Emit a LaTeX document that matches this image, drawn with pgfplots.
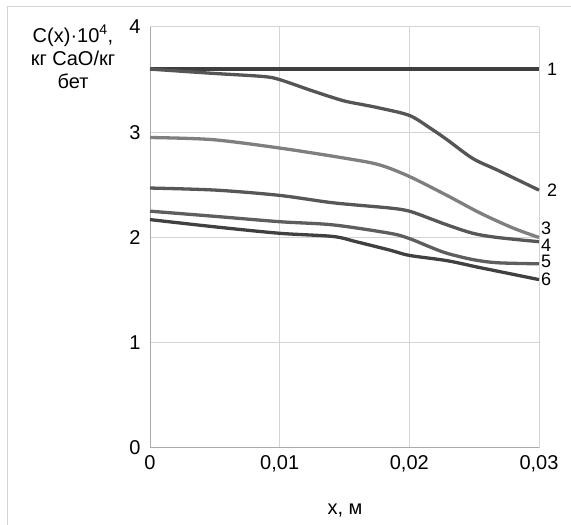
\documentclass[border=0pt]{standalone}
\usepackage{pgfplots}
\pgfplotsset{compat=1.18}
\usepackage{fontspec}
\setmainfont{Liberation Sans}
\definecolor{gridc}{HTML}{D4D4D4}
\definecolor{c1}{HTML}{3F3F3F}
\definecolor{c2}{HTML}{555555}
\definecolor{c3}{HTML}{7F7F7F}
\definecolor{c4}{HTML}{575757}
\definecolor{c5}{HTML}{5E5E5E}
\definecolor{c6}{HTML}{404040}
\begin{document}
\begin{tikzpicture}
\useasboundingbox (0pt,0pt) rectangle (571pt,525pt);
\draw[gridc, line width=1pt] (7pt,0pt) -- (7pt,518pt) -- (571pt,518pt);
\begin{axis}[
  at={(150pt,77pt)}, anchor=south west,
  scale only axis, width=389pt, height=421pt,
  xmin=0, xmax=0.03, ymin=0, ymax=4,
  xtick={0,0.01,0.02,0.03},
  xticklabels={0,{0,01},{0,02},{0,03}},
  ytick={0,1,2,3,4},
  yticklabels={0,1,2,3,4},
  scaled x ticks=false,
  grid=major,
  major grid style={gridc, line width=1pt},
  axis line style={gridc!80!black, line width=1pt},
  axis x line*=bottom, axis y line*=left,
  tick style={draw=none},
  ticklabel style={font=\fontsize{20}{24}\selectfont},
  xticklabel style={yshift=-4pt},
  yticklabel style={xshift=-6pt},
  clip=false,
  every axis plot/.append style={smooth, line width=3.3pt, no marks},
]
\addplot[c1] coordinates {(0,3.6) (0.01,3.6) (0.02,3.6) (0.03,3.6)};
\addplot[c2] coordinates {(0,3.6) (0.0048,3.56) (0.0087,3.53) (0.01,3.50) (0.0126,3.39) (0.0149,3.30) (0.0165,3.26) (0.0177,3.23) (0.02,3.16) (0.0216,3.04) (0.0229,2.93) (0.0249,2.75) (0.0268,2.64) (0.03,2.45)};
\addplot[c3] coordinates {(0,2.95) (0.0048,2.93) (0.01,2.85) (0.0152,2.75) (0.0177,2.69) (0.02,2.58) (0.0229,2.40) (0.0255,2.23) (0.028,2.09) (0.03,2.00)};
\addplot[c4] coordinates {(0,2.47) (0.0051,2.45) (0.01,2.40) (0.0141,2.33) (0.0185,2.28) (0.02,2.25) (0.0216,2.18) (0.0229,2.12) (0.0249,2.04) (0.0268,2.00) (0.03,1.96)};
\addplot[c5] coordinates {(0,2.25) (0.0051,2.20) (0.01,2.15) (0.0141,2.12) (0.0185,2.04) (0.02,1.99) (0.0216,1.91) (0.0229,1.85) (0.0249,1.79) (0.0268,1.76) (0.03,1.75)};
\addplot[c6] coordinates {(0,2.17) (0.0051,2.10) (0.01,2.04) (0.0141,2.01) (0.0159,1.96) (0.0185,1.88) (0.02,1.83) (0.0229,1.78) (0.0252,1.72) (0.0268,1.68) (0.03,1.60)};
\begin{scope}[every node/.style={font=\fontsize{18}{20}\selectfont, anchor=west, inner sep=0pt}]
\node at (axis cs:0.03,3.6) [xshift=8pt] {1};
\node at (axis cs:0.03,2.45) [xshift=8pt] {2};
\node at (axis cs:0.03,2.09) [xshift=2pt] {3};
\node at (axis cs:0.03,1.93) [xshift=2pt] {4};
\node at (axis cs:0.03,1.77) [xshift=2pt] {5};
\node at (axis cs:0.03,1.60) [xshift=2pt] {6};
\end{scope}
\end{axis}
\node[align=center, anchor=north, font=\fontsize{20}{23}\selectfont, inner sep=0pt] at (73pt,500pt) {C(x)·10\textsuperscript{4},\\кг CaO/кг\\бет};
\node[font=\fontsize{20}{24}\selectfont, anchor=base] at (345pt,10pt) {x, м};
\end{tikzpicture}
\end{document}
